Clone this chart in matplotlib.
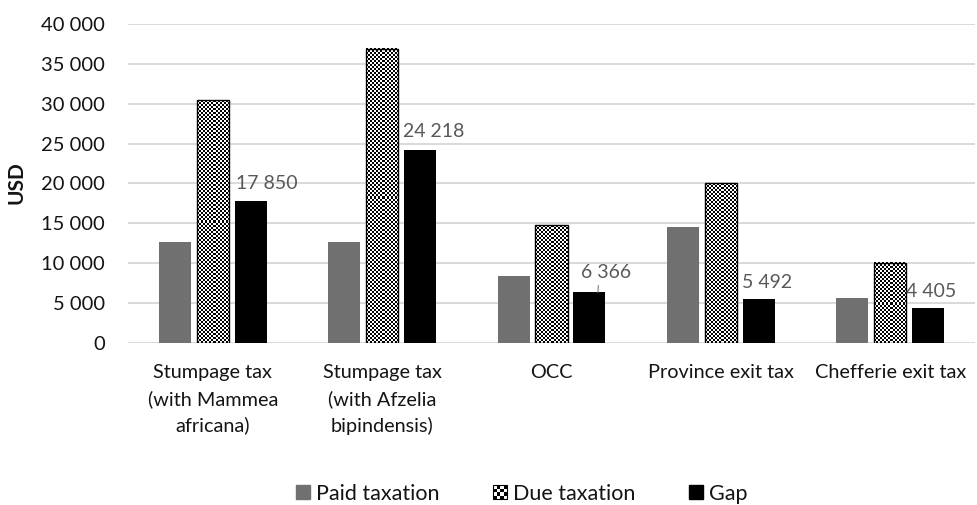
import numpy as np
import matplotlib.pyplot as plt
from matplotlib.patches import Patch, Rectangle
from matplotlib.legend_handler import HandlerBase
from matplotlib.ticker import FuncFormatter

plt.rcParams['font.family'] = ['Lato', 'DejaVu Sans']

categories = ["Stumpage tax\n(with Mammea\nafricana)",
              "Stumpage tax\n(with Afzelia\nbipindensis)",
              "OCC",
              "Province exit tax",
              "Chefferie exit tax"]
paid = [12650, 12650, 8350, 14550, 5700]
due = [30450, 36900, 14750, 20050, 10080]
gap = [17850, 24218, 6366, 5492, 4405]

# label offsets (points) from the top of each gap bar
label_offsets = [(12, 12), (10, 13.5), (6, 14), (6, 12), (2, 11.5)]

PAID_C = '#707070'
TXT = '#141414'
LBL = '#595959'

fig = plt.figure(figsize=(9.77, 5.05), dpi=100)
ax = fig.add_axes([128 / 977, (505 - 343) / 505, (975 - 128) / 977, (343 - 24) / 505])

x = np.arange(len(categories))
w = 0.189
off = 0.224

ax.bar(x - off, paid, w, color=PAID_C, zorder=2)
ax.bar(x + off, gap, w, color='black', zorder=2)

# due bars: checkerboard fill, 2 px cells
px_per_x = ax.bbox.width / 5.0
px_per_y = ax.bbox.height / 40000.0
for xi, v in zip(x, due):
    x0, x1 = xi - w / 2, xi + w / 2
    nx = max(1, int(round(w * px_per_x / 2)))
    ny = max(1, int(round(v * px_per_y / 2)))
    checker = np.indices((ny, nx)).sum(axis=0) % 2
    ax.imshow(checker, extent=(x0, x1, 0, v), cmap='gray', vmin=0, vmax=1,
              interpolation='nearest', aspect='auto', zorder=2)
    ax.add_patch(Rectangle((x0, 0), w, v, fill=False, edgecolor='black',
                           linewidth=1.0, zorder=3))

for i, (xi, v) in enumerate(zip(x, gap)):
    dx, dy = label_offsets[i]
    txt = f"{v:,}".replace(",", " ")
    if i == 2:
        ax.annotate(txt, xy=(xi + off + 0.05, v), xytext=(dx, dy),
                    textcoords='offset points', ha='center', va='center',
                    color=LBL, fontsize=14,
                    arrowprops=dict(arrowstyle='-', color='#909090', lw=0.9,
                                    shrinkA=1, shrinkB=0, relpos=(0.35, 0)))
    else:
        ax.annotate(txt, xy=(xi + off, v), xytext=(dx, dy),
                    textcoords='offset points', ha='center', va='center',
                    color=LBL, fontsize=14)

ax.set_xlim(-0.5, 4.5)
ax.set_ylim(0, 40000)
ax.set_yticks(np.arange(0, 40001, 5000))
ax.yaxis.set_major_formatter(FuncFormatter(lambda v, p: f"{int(v):,}".replace(",", " ")))
ax.set_xticks(x)
ax.set_xticklabels(categories, linespacing=1.6)
ax.tick_params(axis='y', length=0, pad=16.5, labelsize=14.5, labelcolor=TXT)
ax.tick_params(axis='x', length=0, pad=15, labelsize=14.3, labelcolor=TXT)
ax.yaxis.grid(True, color='#d9d9d9', linewidth=1.4, zorder=0)
ax.set_axisbelow(True)
for s in ax.spines.values():
    s.set_visible(False)

fig.text(17 / 977, 1 - 183 / 505, 'USD', rotation=90, fontsize=15,
         fontweight='bold', color=TXT, ha='center', va='center')


class CheckerHandler(HandlerBase):
    def create_artists(self, legend, orig_handle, xdescent, ydescent,
                       width, height, fontsize, trans):
        s = height
        n = 4
        c = s / n
        x0, y0 = -xdescent, -ydescent
        arts = [Rectangle((x0, y0), s, s, facecolor='white', edgecolor='black',
                          linewidth=0.8, transform=trans)]
        for r in range(n):
            for k in range(n):
                if (r + k) % 2 == 0:
                    arts.append(Rectangle((x0 + k * c, y0 + r * c), c, c,
                                          facecolor='black', edgecolor='none',
                                          transform=trans))
        return arts


due_handle = Patch(facecolor='white', edgecolor='black')
handles = [Patch(color=PAID_C), due_handle, Patch(color='black')]
leg = fig.legend(handles, ['Paid taxation', 'Due taxation', 'Gap'],
                 handler_map={due_handle: CheckerHandler()},
                 loc='center', bbox_to_anchor=(522 / 977, 11 / 505), ncol=3,
                 frameon=False, fontsize=15.5, handlelength=0.62, handleheight=0.62,
                 handletextpad=0.3, columnspacing=2.5, borderaxespad=0)
for t in leg.get_texts():
    t.set_color(TXT)

fig.savefig('out.png', dpi=100)
